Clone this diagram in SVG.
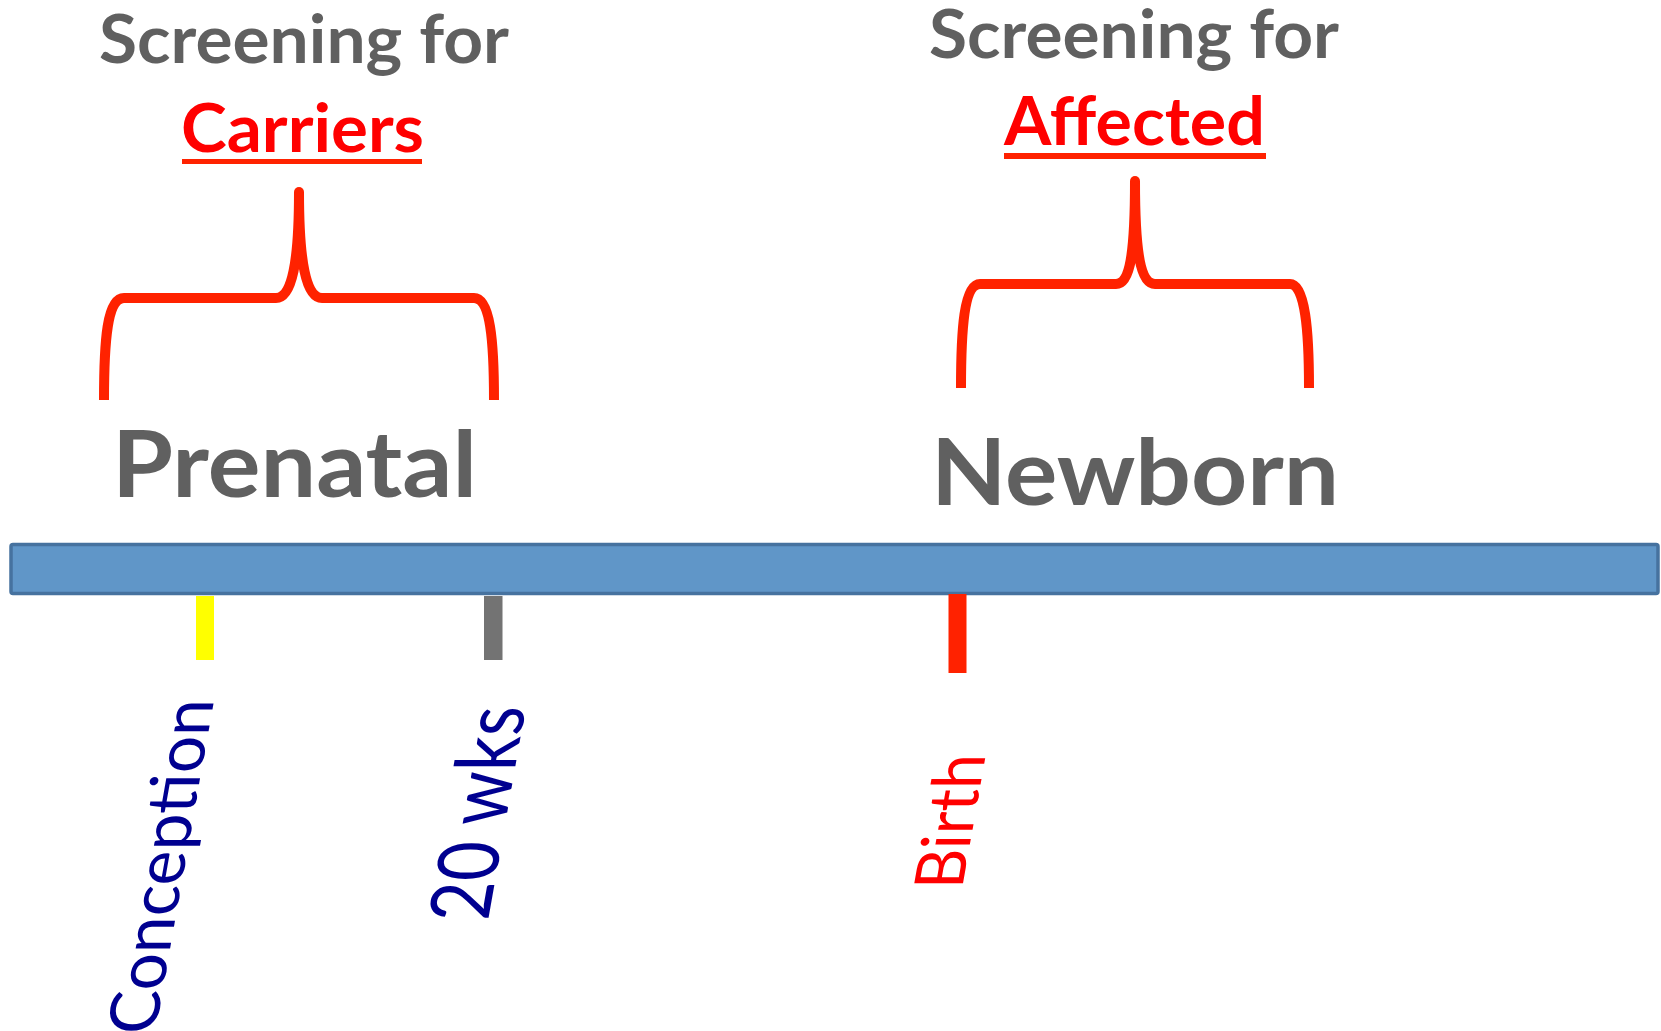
<svg xmlns="http://www.w3.org/2000/svg" width="1661" height="1031" viewBox="0 0 1661 1031">
<style>
.hd{font-family:Lato,"Liberation Sans",sans-serif;font-weight:bold;fill:#606060;font-size:67px}
.em{font-family:Lato,"Liberation Sans",sans-serif;font-weight:bold;fill:#FF0000;font-size:67px}
.big{font-family:Lato,"Liberation Sans",sans-serif;font-weight:bold;fill:#606060;font-size:92px}
.lbl{font-family:Lato,"Liberation Sans",sans-serif;font-size:68px}
.brace{fill:none;stroke:#FF2200;stroke-width:10}
.ul{fill:#FF2200}
</style>
<rect width="1661" height="1031" fill="#FFFFFF"/>
<g id="carriers-label">
<text class="hd" x="99" y="63" textLength="410" lengthAdjust="spacingAndGlyphs">Screening for</text>
<text class="em" x="181" y="152" textLength="243" lengthAdjust="spacingAndGlyphs">Carriers</text>
<rect class="ul" x="182" y="159" width="240" height="5"/>
</g>
<g id="affected-label">
<text class="hd" x="929" y="58" textLength="410" lengthAdjust="spacingAndGlyphs">Screening for</text>
<text class="em" x="1004" y="145" textLength="261" lengthAdjust="spacingAndGlyphs">Affected</text>
<rect class="ul" x="1004" y="153" width="262" height="6"/>
</g>
<g id="brace-prenatal">
<path class="brace" d="M104,400 C104,340 107,298 124,298 L276,298 C292,298 299,262 299,192 C299,262 306,298 322,298 L474,298 C490,298 494,340 494,400"/>
<circle cx="299" cy="192" r="5" fill="#FF2200"/>
</g>
<g id="brace-newborn">
<path class="brace" d="M961,388 C961,330 964,284 980,284 L1116,284 C1131,284 1135,250 1135,181 C1135,250 1140,284 1155,284 L1290,284 C1305,284 1309,330 1309,388"/>
<circle cx="1135" cy="181" r="5" fill="#FF2200"/>
</g>
<g id="prenatal">
<text class="big" x="112" y="497" textLength="365" lengthAdjust="spacingAndGlyphs">Prenatal</text>
</g>
<g id="newborn">
<text class="big" x="931" y="505" textLength="408" lengthAdjust="spacingAndGlyphs">Newborn</text>
</g>
<g id="timeline">
<rect x="11" y="544.5" width="1647" height="49" rx="2" fill="#6096C8" stroke="#46729F" stroke-width="3.5"/>
</g>
<g id="ticks">
<rect id="tick-conception" x="196" y="596" width="18" height="64" fill="#FFFF00"/>
<rect id="tick-20wks" x="484" y="596" width="18.5" height="64" fill="#737373"/>
<rect id="tick-birth" x="948.5" y="594" width="18" height="79" fill="#FF2200"/>
</g>
<g id="conception">
<text class="lbl" fill="#000090" transform="matrix(0.174,-0.985,1,0,155,1034)" textLength="340" lengthAdjust="spacingAndGlyphs">Conception</text>
</g>
<g id="wks20">
<text class="lbl" fill="#000090" style="font-size:84px" transform="matrix(0.174,-0.985,1,0,488,921)" textLength="218" lengthAdjust="spacingAndGlyphs">20 wks</text>
</g>
<g id="birth">
<text class="lbl" fill="#FF0000" transform="matrix(0.174,-0.985,1,0,962,889)" textLength="137" lengthAdjust="spacingAndGlyphs">Birth</text>
</g>
</svg>
